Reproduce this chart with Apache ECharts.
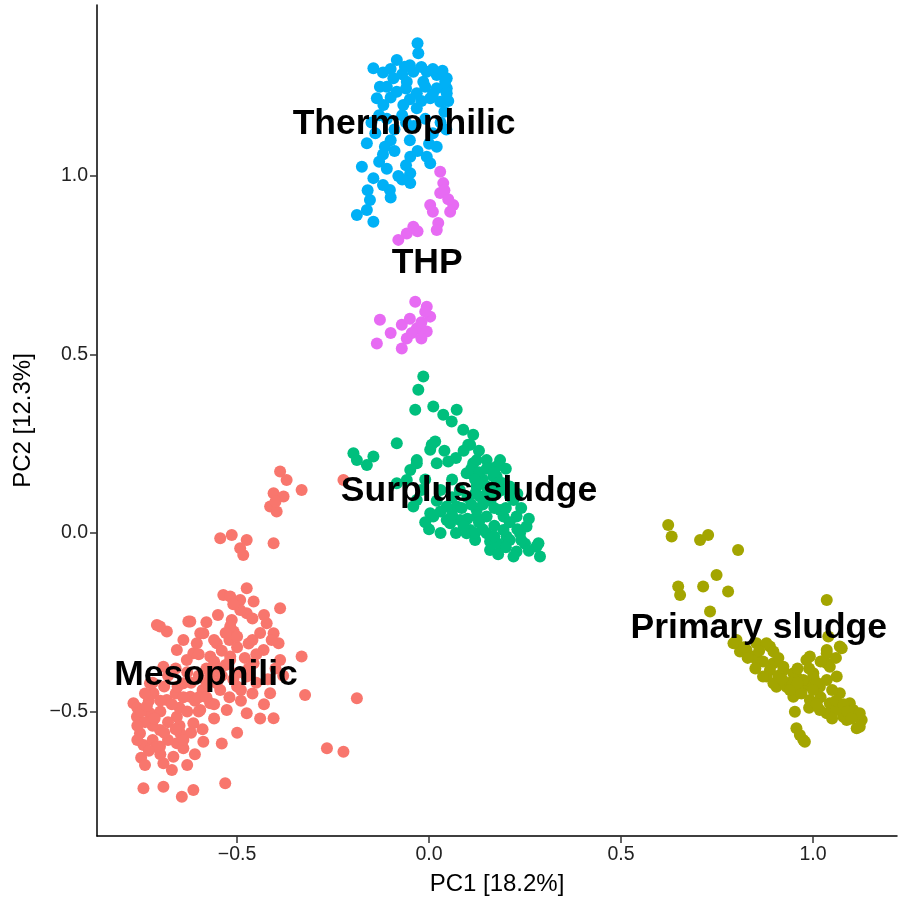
<!DOCTYPE html>
<html>
<head>
<meta charset="utf-8">
<script src="https://cdn.jsdelivr.net/npm/echarts@6/dist/echarts.min.js"></script>
<style>
html,body{margin:0;padding:0;background:#fff;}
#chart{width:899px;height:902px;}
</style>
</head>
<body>
<div id="chart"></div>
<script>
var groupNames = ["Mesophilic", "Primary sludge", "Surplus sludge", "Thermophilic", "THP"];
var xTicks = [-0.5, 0, 0.5, 1.0];
var yTicks = [-0.5, 0, 0.5, 1.0];

var mesophilic = [
[-0.223,0.148],
[-0.388,0.172],[-0.371,0.148],[-0.332,0.120],[-0.405,0.111],[-0.379,0.102],[-0.414,0.074],[-0.397,0.060],[-0.400,0.088],
[-0.544,-0.015],[-0.514,-0.006],[-0.475,-0.020],[-0.492,-0.043],[-0.484,-0.062],[-0.405,-0.029],
[-0.475,-0.155],[-0.536,-0.174],[-0.492,-0.188],[-0.457,-0.192],[-0.388,-0.211],[-0.514,-0.244],[-0.475,-0.225],[-0.423,-0.253],[-0.518,-0.178],[-0.492,-0.216],[-0.510,-0.200],
[-0.622,-0.248],[-0.709,-0.258],[-0.683,-0.276],[-0.596,-0.281],[-0.509,-0.276],[-0.405,-0.281],[-0.392,-0.309],[-0.553,-0.309],[-0.657,-0.328],[-0.614,-0.337],[-0.518,-0.346],[-0.431,-0.328],[-0.388,-0.356],[-0.332,-0.346],[-0.457,-0.365],
[-0.701,-0.262],[-0.627,-0.248],[-0.588,-0.281],[-0.518,-0.262],[-0.605,-0.309],[-0.570,-0.346],[-0.518,-0.356],[-0.631,-0.356],[-0.692,-0.375],[-0.501,-0.393],
[-0.475,-0.402],[-0.414,-0.449],[-0.323,-0.454],[-0.188,-0.463],[-0.770,-0.477],[-0.718,-0.449],[-0.683,-0.468],[-0.622,-0.459],[-0.570,-0.477],[-0.527,-0.496],[-0.475,-0.505],[-0.405,-0.519],[-0.761,-0.515],[-0.727,-0.505],[-0.657,-0.515],[-0.614,-0.533],[-0.753,-0.561],[-0.701,-0.552],[-0.648,-0.561],[-0.588,-0.585],[-0.744,-0.594],[-0.701,-0.598],[-0.657,-0.589],[-0.640,-0.603],[-0.666,-0.627],[-0.692,-0.645],[-0.670,-0.664],[-0.266,-0.603],[-0.223,-0.613],[-0.744,-0.715],[-0.692,-0.711],[-0.644,-0.739],[-0.614,-0.720],[-0.531,-0.701],
[-0.727,-0.421],[-0.640,-0.421],[-0.553,-0.421],[-0.596,-0.496],[-0.544,-0.440],[-0.600,-0.400],[-0.680,-0.400],[-0.500,-0.430],[-0.450,-0.420],[-0.650,-0.490],[-0.730,-0.470],[-0.560,-0.520],[-0.620,-0.560],[-0.680,-0.530],[-0.720,-0.540],
[-0.760,-0.490],[-0.740,-0.530],[-0.720,-0.580],[-0.700,-0.500],[-0.690,-0.430],[-0.660,-0.450],[-0.650,-0.540],[-0.630,-0.500],[-0.610,-0.470],[-0.590,-0.440],[-0.580,-0.380],[-0.560,-0.360],[-0.540,-0.330],[-0.520,-0.300],[-0.500,-0.320],[-0.480,-0.350],[-0.460,-0.300],[-0.440,-0.280],[-0.540,-0.400],[-0.520,-0.460],[-0.490,-0.470],[-0.460,-0.450],[-0.430,-0.480],[-0.610,-0.620],[-0.630,-0.650],[-0.590,-0.550],[-0.560,-0.480],[-0.700,-0.620],[-0.750,-0.630],[-0.720,-0.420],[-0.660,-0.380],[-0.640,-0.300],[-0.580,-0.250],[-0.550,-0.230],[-0.460,-0.240],[-0.430,-0.230],[-0.410,-0.300],[-0.400,-0.380],[-0.380,-0.400],[-0.420,-0.410],[-0.440,-0.520],[-0.500,-0.560],[-0.540,-0.590],[-0.680,-0.580],[-0.760,-0.540],[-0.740,-0.450],
[-0.750,-0.500],[-0.735,-0.485],[-0.715,-0.520],[-0.700,-0.470],[-0.690,-0.560],[-0.670,-0.480],[-0.655,-0.430],[-0.640,-0.460],[-0.620,-0.420],[-0.600,-0.460],[-0.580,-0.420],[-0.570,-0.400],[-0.550,-0.380],[-0.530,-0.370],[-0.510,-0.410],[-0.490,-0.440],[-0.470,-0.380],[-0.450,-0.340],[-0.470,-0.310],[-0.500,-0.290],[-0.530,-0.280],[-0.560,-0.300],[-0.600,-0.340],[-0.630,-0.390],[-0.660,-0.550],[-0.640,-0.580],[-0.710,-0.600],[-0.730,-0.610],[-0.760,-0.580],[-0.740,-0.650],[-0.600,-0.500],[-0.580,-0.460]
];

var primarySludge = [
[0.623,0.022],[0.632,-0.010],[0.706,-0.020],[0.727,-0.006],[0.805,-0.048],[0.749,-0.118],[0.649,-0.150],[0.654,-0.174],[0.714,-0.150],[0.779,-0.164],[0.732,-0.220],[1.036,-0.188],
[0.801,-0.300],[0.853,-0.309],[0.888,-0.318],[0.810,-0.332],[0.845,-0.346],[1.070,-0.318],[1.036,-0.328],[0.992,-0.346],[1.036,-0.365],[0.897,-0.365],[0.923,-0.384],[0.879,-0.402],[0.957,-0.402],[1.001,-0.393],[0.905,-0.431],[0.957,-0.440],[1.018,-0.431],[1.070,-0.449],[0.949,-0.459],[0.992,-0.468],[1.044,-0.477],[1.096,-0.477],[1.036,-0.505],[1.079,-0.515],[1.127,-0.524],[1.114,-0.547],[0.953,-0.501],[0.957,-0.547],[0.975,-0.580],[1.105,-0.496],[0.983,-0.426],[1.062,-0.402],
[0.793,-0.309],[0.827,-0.328],[0.879,-0.309],[0.897,-0.332],[0.853,-0.356],[0.888,-0.384],[0.923,-0.375],[0.949,-0.393],[0.897,-0.421],[0.931,-0.431],[0.975,-0.412],[1.001,-0.402],[1.036,-0.412],[1.044,-0.375],[0.983,-0.356],[1.036,-0.337],[1.075,-0.323],[1.040,-0.290],[1.018,-0.496],[1.062,-0.496],[1.122,-0.505],[1.088,-0.524],[1.122,-0.543],[0.966,-0.566],[0.979,-0.585],[0.870,-0.402],
[0.820,-0.320],[0.860,-0.330],[0.870,-0.360],[0.910,-0.350],[0.910,-0.400],[0.940,-0.420],[0.960,-0.380],[0.990,-0.380],[1.010,-0.420],[1.020,-0.460],[1.050,-0.440],[1.060,-0.470],[1.080,-0.480],[1.090,-0.500],[1.100,-0.520],[0.970,-0.450],[0.990,-0.490],[1.010,-0.480],[1.050,-0.520],[0.940,-0.440],[0.920,-0.410],[0.960,-0.420],[1.060,-0.350],[1.020,-0.360],[1.000,-0.440],[0.850,-0.380],[0.830,-0.350]
];

var surplusSludge = [
[-0.015,0.438],[-0.028,0.401],[-0.036,0.345],[0.011,0.354],[0.037,0.331],[0.072,0.345],[0.059,0.312],[0.089,0.289],[0.115,0.275],[0.102,0.247],[-0.084,0.251],[0.016,0.256],[0.003,0.233],[-0.197,0.223],[-0.145,0.214],[-0.162,0.190],[-0.188,0.204],[-0.032,0.204],[0.020,0.195],[-0.049,0.176],[-0.084,0.139],[-0.032,0.092],[0.003,0.055],
[0.115,0.195],[0.150,0.204],[0.185,0.204],[0.107,0.167],[0.176,0.158],[0.124,0.130],[0.176,0.111],[0.072,0.074],[0.046,0.036],[0.124,0.064],[0.150,0.046],[0.194,0.046],[0.228,0.046],[0.107,0.008],[0.150,-0.001],[0.159,-0.024],[0.202,-0.010],[0.237,-0.001],[0.228,-0.052],[0.285,-0.029],[0.289,-0.066],[0.254,0.018],[0.220,0.092],
[0.007,0.247],[0.107,0.247],[-0.032,0.195],[0.124,0.204],[0.176,0.186],[0.098,0.167],[0.168,0.158],[-0.058,0.148],[-0.041,0.074],[0.011,0.046],[0.046,0.074],[0.081,0.036],[0.124,0.046],[0.185,0.064],[0.098,-0.001],[0.194,0.008],[0.159,-0.048],[0.194,-0.038],[0.220,-0.066],[0.280,-0.038],[0.133,0.102],[0.211,0.102],[0.055,0.027],[0.080,0.120],[0.140,0.150],[0.030,0.120],[0.060,0.150],[0.190,0.140],[-0.010,0.150],
[0.040,0.230],[0.070,0.210],[0.090,0.230],[0.130,0.230],[0.160,0.180],[0.200,0.180],[0.210,0.130],[0.230,0.110],[0.100,0.100],[0.060,0.100],[0.020,0.090],[0.000,0.010],[0.030,0.000],[0.070,0.000],[0.120,-0.020],[0.180,-0.030],[0.210,-0.020],[0.250,-0.030],[0.180,-0.060],[0.140,0.080],[0.160,0.090],[0.240,0.070],[0.260,0.040],[0.100,0.040],[0.085,0.070],[-0.020,0.120],[-0.010,0.030],[0.050,0.200],
[0.110,0.180],[0.130,0.170],[0.150,0.180],[0.170,0.170],[0.120,0.150],[0.150,0.130],[0.170,0.130],[0.190,0.120],[0.120,0.110],[0.150,0.110],[0.110,0.080],[0.170,0.070],[0.200,0.070],[0.130,0.030],[0.170,0.020],[0.210,0.030],[0.230,0.010],[0.140,0.010],[0.120,0.000],[0.170,-0.010],[0.200,-0.040],[0.240,-0.020],[0.260,-0.050],[0.060,0.050],[0.030,0.060],[0.090,0.020]
];

var thermophilic = [
[-0.030,1.372],[-0.028,1.344],[-0.145,1.302],[-0.084,1.325],[-0.063,1.306],[-0.041,1.292],[-0.006,1.292],[0.020,1.283],[0.046,1.274],[0.046,1.246],[0.020,1.246],[-0.015,1.264],[-0.058,1.264],[-0.093,1.274],[-0.128,1.250],[-0.084,1.236],[-0.032,1.232],[0.003,1.218],[0.029,1.208],[-0.136,1.218],[-0.119,1.199],[-0.067,1.199],[-0.032,1.190],[0.042,1.264],[0.046,1.232],
[-0.150,1.150],[-0.110,1.160],[-0.070,1.170],[-0.040,1.140],[-0.010,1.160],[0.030,1.150],[-0.090,1.130],[0.040,1.180],
[-0.162,1.092],[-0.115,1.082],[-0.049,1.054],[0.020,1.082],[-0.006,1.054],[0.003,1.036],[-0.175,1.026],[-0.145,0.994],[-0.049,0.980],[-0.102,0.961],[-0.154,0.933],[-0.162,0.905],[-0.188,0.891],[-0.145,0.872],[-0.049,1.008],[-0.090,1.070],[-0.130,1.040],[-0.080,1.000],[-0.120,0.975],[-0.060,1.030],
[-0.120,1.290],[-0.100,1.300],[-0.070,1.285],[-0.050,1.310],[-0.020,1.305],[0.010,1.300],[0.035,1.295],[-0.110,1.250],[-0.060,1.245],[-0.010,1.250],[0.010,1.230],[-0.100,1.220],[-0.050,1.215],[-0.020,1.210],[0.050,1.210],[-0.130,1.170],[-0.060,1.150],[0.010,1.120],[0.045,1.130],[-0.140,1.120],[-0.100,1.100],[-0.050,1.100],[0.000,1.090],[-0.120,1.060],[-0.030,1.070],[-0.160,0.960],[-0.110,1.020],[-0.070,0.990],[-0.100,0.940]
];

var thp = [
[0.029,1.012],[0.037,0.980],[0.029,0.952],[0.003,0.919],[0.063,0.919],[0.055,0.900],[0.024,0.868],[0.020,0.849],[-0.041,0.858],[-0.058,0.839],[-0.080,0.821],
[0.040,0.960],[0.010,0.900],[0.050,0.935],[-0.030,0.845],
[-0.036,0.648],[-0.006,0.634],[0.003,0.606],[-0.128,0.597],[-0.071,0.583],[-0.032,0.573],[-0.006,0.564],[-0.058,0.545],[-0.136,0.531],[-0.071,0.517],[-0.020,0.590],[-0.045,0.560],
[-0.010,0.620],[-0.050,0.600],[-0.020,0.545],[-0.100,0.560]
];

var groupLabels = [
["Thermophilic", -0.065, 1.146],
["THP", -0.005, 0.756],
["Surplus sludge", 0.104, 0.118],
["Primary sludge", 0.859, -0.266],
["Mesophilic", -0.581, -0.398]
];

var groupData = [mesophilic, primarySludge, surplusSludge, thermophilic, thp];
var colors = ["#F8766D", "#A3A500", "#00BF7D", "#00B0F6", "#E76BF3"];

function fmt(v) {
  return (v < 0 ? "\u2212" : "") + Math.abs(v).toFixed(1);
}

var series = groupData.map(function (d, i) {
  return {
    name: groupNames[i],
    type: "scatter",
    data: d,
    symbol: "circle",
    symbolSize: 12,
    itemStyle: { color: colors[i], opacity: 1 },
    emphasis: { disabled: true },
    z: 2
  };
});

series.push({
  type: "scatter",
  name: "labels",
  data: groupLabels.map(function (l) { return { name: l[0], value: [l[1], l[2]] }; }),
  symbolSize: 0,
  silent: true,
  z: 10,
  label: {
    show: true,
    position: "inside",
    formatter: function (p) { return p.name; },
    color: "#000000",
    opacity: 1,
    textBorderWidth: 0,
    textBorderColor: "transparent",
    textShadowBlur: 0,
    fontFamily: "Liberation Sans, Arial, sans-serif",
    fontWeight: "bold",
    fontSize: 35.5
  }
});

var chart = echarts.init(document.getElementById("chart"), null, { renderer: "canvas" });
chart.setOption({
  animation: false,
  backgroundColor: "#fff",
  grid: { left: 97, right: 2, top: 5, bottom: 66, containLabel: false },
  xAxis: {
    type: "value",
    min: -0.865,
    max: 1.219,
    name: "PC1 [18.2%]",
    nameLocation: "middle",
    nameGap: 36,
    nameTextStyle: { color: "#000", fontSize: 24, fontFamily: "Liberation Sans, Arial, sans-serif" },
    axisLine: { show: true, onZero: false, lineStyle: { color: "#000", width: 1.5 } },
    axisTick: { show: true, length: 7, customValues: xTicks, lineStyle: { color: "#333", width: 1.5 } },
    axisLabel: { show: true, customValues: xTicks, formatter: fmt, margin: 9, color: "#222", fontSize: 19.5, fontFamily: "Liberation Sans, Arial, sans-serif" },
    splitLine: { show: false }
  },
  yAxis: {
    type: "value",
    min: -0.849,
    max: 1.479,
    name: "PC2 [12.3%]",
    nameLocation: "middle",
    nameGap: 62,
    nameTextStyle: { color: "#000", fontSize: 24, fontFamily: "Liberation Sans, Arial, sans-serif" },
    axisLine: { show: true, onZero: false, lineStyle: { color: "#000", width: 1.5 } },
    axisTick: { show: true, length: 7, customValues: yTicks, lineStyle: { color: "#333", width: 1.5 } },
    axisLabel: { show: true, customValues: yTicks, formatter: fmt, margin: 9, color: "#222", fontSize: 19.5, fontFamily: "Liberation Sans, Arial, sans-serif" },
    splitLine: { show: false }
  },
  series: series
});
</script>
</body>
</html>
